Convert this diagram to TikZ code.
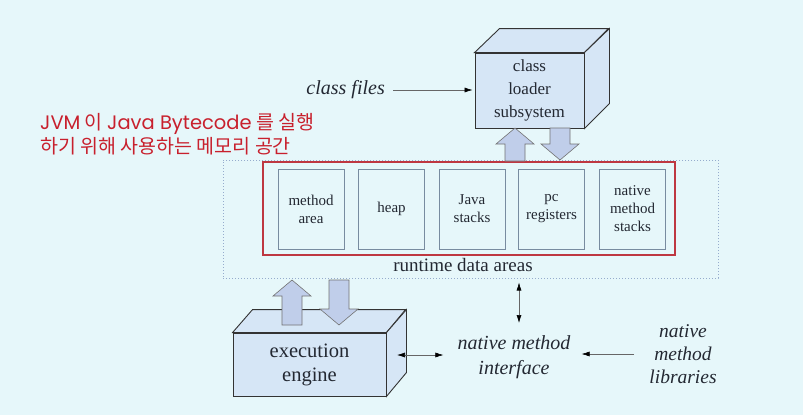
\documentclass[tikz,border=0pt]{standalone}
\usepackage{fontspec}
\setmainfont{Liberation Serif}
\newfontfamily\krfont{Noto Sans CJK KR}
\newfontfamily\krlatin{Poppins}
\usepackage{tikz}
\usetikzlibrary{arrows.meta, positioning, calc}
\usepackage{xcolor}

\definecolor{bgcyan}{RGB}{230,247,250}
\definecolor{boxblue}{RGB}{214,230,246}
\definecolor{arrowblue}{RGB}{192,206,234}
\definecolor{redline}{RGB}{190,55,65}
\definecolor{krred}{RGB}{200,32,45}
\definecolor{cellgray}{RGB}{120,140,160}
\definecolor{dotblue}{RGB}{150,172,205}
\definecolor{inkgray}{RGB}{35,40,50}

% fat block arrow from #1 (tail) to #2 (tip), vertical
\newcommand{\fatarrow}[2]{%
  \draw[fat] let \p1=(#1), \p2=(#2), \n1={ifthenelse(\y2>\y1,1,-1)} in
    ({\x1-10pt},\y1) -- ({\x1-10pt},{\y2-\n1*16pt}) -- ({\x1-19pt},{\y2-\n1*16pt})
    -- (\x2,\y2) -- ({\x1+19pt},{\y2-\n1*16pt}) -- ({\x1+10pt},{\y2-\n1*16pt})
    -- ({\x1+10pt},\y1) -- cycle;}

\begin{document}
\begin{tikzpicture}[
    x=1pt, y=-1pt,
    % Node styles
    face/.style={draw=black!80, fill=boxblue, line width=0.9pt},
    front/.style={face, rectangle, align=center, inner sep=0pt, text=inkgray},
    memcell/.style={rectangle, draw=cellgray, line width=0.6pt, minimum width=66pt, minimum height=80pt, align=center, text=inkgray, font=\fontsize{15}{18}\selectfont},
    fat/.style={draw=black!55, fill=arrowblue, line width=0.6pt},
    link/.style={-{Latex[length=8pt,width=5pt,color=black]}, draw=black!60, line width=0.6pt},
    linkboth/.style={{Latex[length=8pt,width=5pt,color=black]}-{Latex[length=8pt,width=5pt,color=black]}, draw=black!60, line width=0.6pt},
    note/.style={font=\itshape\fontsize{20}{25}\selectfont, align=center, text=inkgray, inner sep=0pt},
]

% Background
\fill[bgcyan] (0,0) rectangle (803,415);
\useasboundingbox (0,0) rectangle (803,415);

% Caption
\node[anchor=west, align=left, inner sep=0pt, text=krred, font=\krfont\fontsize{19.5}{24}\selectfont] (caption) at (40,134) {{\krlatin JVM} 이 {\krlatin Java Bytecode} 를 실행\\하기 위해 사용하는 메모리 공간};

% ============================================================================
% CLASS LOADER
% ============================================================================
\node[front, minimum width=109pt, minimum height=75pt, font=\fontsize{17}{23}\selectfont] (loader) at (529.5,90.5) {class\\loader\\subsystem};
\draw[face] (loader.north west) -- ++(25,-24) -- ++(109,0) -- (loader.north east) -- cycle;
\draw[face] (loader.north east) -- ++(25,-24) -- ++(0,75) -- (loader.south east) -- cycle;

\node[note, anchor=east] (classfiles) at (385,90) {class files};
\draw[link, shorten <=8pt, shorten >=2pt] (classfiles.east) -- (classfiles.east -| loader.west);

% ============================================================================
% RUNTIME DATA AREAS
% ============================================================================
\node[rectangle, draw=dotblue, dotted, line width=1pt, minimum width=495pt, minimum height=118pt] (runtime) at (470.5,219) {};
\node[rectangle, draw=redline, line width=1.3pt, minimum width=412pt, minimum height=93pt] (rda) at (469,208.5) {};
\node[text=inkgray, font=\fontsize{19}{22}\selectfont] (rdalabel) at (463,265) {runtime data areas};

\foreach \x/\name/\txt in {311/method/{method\\area}, 391.5/heap/heap, 472/jstack/{Java\\stacks}, 551.5/pcreg/{pc\\registers}, 632.5/nstack/{native\\method\\stacks}}
    \node[memcell] (\name) at (\x,209) {\txt};

% Loader <-> runtime
\coordinate (upT) at (515,161);
\coordinate (upH) at (515,128);
\coordinate (dnT) at (560,128);
\coordinate (dnH) at (560,160);
\fatarrow{upT}{upH}
\fatarrow{dnT}{dnH}

% ============================================================================
% EXECUTION ENGINE
% ============================================================================
\node[front, minimum width=153pt, minimum height=63pt, font=\fontsize{20.5}{24}\selectfont] (engine) at (309.5,364.5) {execution\\engine};
\draw[face] (engine.north west) -- ++(20,-23) -- ++(153,0) -- (engine.north east) -- cycle;
\draw[face] (engine.north east) -- ++(20,-23) -- ++(0,63) -- (engine.south east) -- cycle;

\coordinate (eupT) at (292,325);
\coordinate (eupH) at (292,280);
\coordinate (ednT) at (339,280);
\coordinate (ednH) at (339,325);
\fatarrow{eupT}{eupH}
\fatarrow{ednT}{ednH}

% ============================================================================
% NATIVE METHODS
% ============================================================================
\node[note] (nmi) at (514,357.5) {native method\\interface};
\node[note, font=\itshape\fontsize{19.5}{23}\selectfont] (libs) at (683,354) {native\\method\\libraries};

\coordinate (nmitop) at (519,323);
\draw[linkboth, shorten >=4pt] (nmitop) -- (nmitop |- runtime.south);

\coordinate (engside) at (397,355);
\draw[linkboth, shorten >=14pt] (engside) -- (engside -| nmi.west);
\draw[link, shorten <=15pt, shorten >=11pt] (libs.west) -- (libs.west -| nmi.east);

\end{tikzpicture}
\end{document}
